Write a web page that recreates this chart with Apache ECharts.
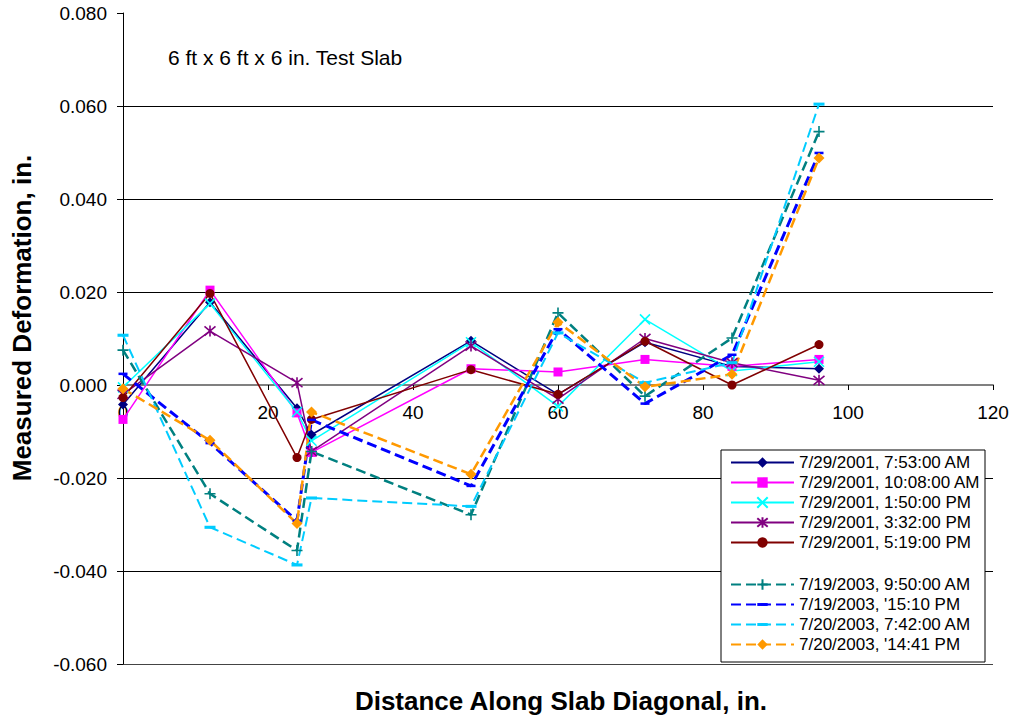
<!DOCTYPE html>
<html><head><meta charset="utf-8">
<script src="https://cdn.jsdelivr.net/npm/echarts@6/dist/echarts.min.js"></script>
<style>html,body{margin:0;padding:0;background:#fff}#c{width:1012px;height:719px}</style>
</head><body><div id="c"></div>
<script>
// ---- data ----
const distance = [0, 12, 24, 26, 48, 60, 72, 84, 96];
const seriesNames = [
  '7/29/2001, 7:53:00 AM', '7/29/2001, 10:08:00 AM', '7/29/2001, 1:50:00 PM',
  '7/29/2001, 3:32:00 PM', '7/29/2001, 5:19:00 PM',
  '7/19/2003, 9:50:00 AM', "7/19/2003, '15:10 PM", '7/20/2003, 7:42:00 AM', "7/20/2003, '14:41 PM"
];
const v0753am01 = [-0.0042, 0.0178, -0.0050, -0.0107, 0.0095, -0.0020, 0.0092, 0.0040, 0.0035];
const v1008am01 = [-0.0074, 0.0204, -0.0060, -0.0145, 0.0035, 0.0028, 0.0055, 0.0040, 0.0055];
const v0150pm01 = [-0.0005, 0.0175, -0.0058, -0.0120, 0.0092, -0.0046, 0.0141, 0.0030, 0.0050];
const v0332pm01 = [-0.0020, 0.0116, 0.0005, -0.0143, 0.0084, -0.0030, 0.0100, 0.0048, 0.0010];
const v0519pm01 = [-0.0027, 0.0197, -0.0156, -0.0074, 0.0033, -0.0020, 0.0094, 0.0000, 0.0087];
const v0950am03 = [0.0075, -0.0234, -0.0356, -0.0143, -0.0279, 0.0155, -0.0024, 0.0101, 0.0545];
const v1510pm03 = [0.0024, -0.0125, -0.0292, -0.0075, -0.0217, 0.0120, -0.0040, 0.0065, 0.0499];
const v0742am03 = [0.0107, -0.0306, -0.0387, -0.0243, -0.0261, 0.0112, 0.0005, 0.0048, 0.0604];
const v0241pm03 = [-0.0008, -0.0119, -0.0298, -0.0058, -0.0192, 0.0135, -0.0004, 0.0023, 0.0488];
const xMin = 0, xMax = 120, xStep = 20;
const yMin = -0.06, yMax = 0.08, yStep = 0.02;
const xTitle = 'Distance Along Slab Diagonal, in.';
const yTitle = 'Measured Deformation, in.';
const note = '6 ft x 6 ft x 6 in. Test Slab';

// ---- layout / styling ----
const FONT = "'Liberation Sans', Arial, sans-serif";
const W = 1012, H = 719;
const gridBox = {left: 123, right: 19, top: 13, bottom: 55};
const plotH = H - gridBox.top - gridBox.bottom;
// move the distance axis up so that it crosses the deformation axis at zero
const xAxisOffset = -plotH * (0 - yMin) / (yMax - yMin);

const allValues = [v0753am01, v1008am01, v0150pm01, v0332pm01, v0519pm01, v0950am03, v1510pm03, v0742am03, v0241pm03];
// short horizontal dash marker inside a square bounding box
const DASH = 'path://M0,0M10,10M0,3.6L10,3.6L10,6.4L0,6.4Z';
const styles = [
  {color: '#000080', symbol: 'diamond', size: 10, width: 1.5},
  {color: '#FF00FF', symbol: 'rect', size: 9, width: 1.5},
  {color: '#00FFFF', symbol: 'path://M0,0L10,10M10,0L0,10', size: 10, width: 1.5, stroke: true},
  {color: '#800080', symbol: 'path://M0,0L10,10M10,0L0,10M5,-1L5,11', size: 11, width: 1.5, stroke: true},
  {color: '#800000', symbol: 'circle', size: 9, width: 1.5},
  {color: '#008080', symbol: 'path://M5,0L5,10M0,5L10,5', size: 11, width: 2.5, dash: true, stroke: true},
  {color: '#0000FF', symbol: DASH, size: 9, width: 3, dash: true},
  {color: '#00CCFF', symbol: DASH, size: 11, width: 2, dash: true},
  {color: '#FF9900', symbol: 'diamond', size: 11, width: 2.5, dash: true}
];

const series = allValues.map((vals, i) => {
  const s = styles[i];
  return {
    name: seriesNames[i],
    type: 'line',
    data: distance.map((d, k) => [d, vals[k]]),
    symbol: s.symbol,
    symbolSize: s.size,
    showAllSymbol: true,
    lineStyle: {color: s.color, width: s.width, type: s.dash ? [10, 5] : 'solid'},
    itemStyle: {color: s.color, borderColor: s.color, borderWidth: s.stroke ? 1.6 : 0, opacity: 1},
    emphasis: {disabled: true},
    z: 2
  };
});

const chart = echarts.init(document.getElementById('c'), null, {renderer: 'svg'});
chart.setOption({
  animation: false,
  backgroundColor: '#fff',
  textStyle: {fontFamily: FONT},
  grid: Object.assign({containLabel: false, outerBoundsMode: 'none'}, gridBox),
  xAxis: {
    type: 'value', min: xMin, max: xMax, interval: xStep,
    position: 'bottom', offset: xAxisOffset,
    axisLine: {onZero: false, lineStyle: {color: '#808080', width: 2}},
    axisTick: {show: true, length: 5, inside: false, lineStyle: {color: '#000', width: 1}},
    axisLabel: {color: '#000', fontSize: 19, fontFamily: FONT, margin: 18, showMinLabel: true, showMaxLabel: true},
    splitLine: {show: false}
  },
  yAxis: {
    type: 'value', min: yMin, max: yMax, interval: yStep,
    axisLine: {show: true, onZero: false, lineStyle: {color: '#000', width: 1}},
    axisTick: {show: true, length: 6, inside: false, lineStyle: {color: '#000'}},
    axisLabel: {color: '#000', fontSize: 19, fontFamily: FONT, margin: 16, formatter: v => v.toFixed(3)},
    splitLine: {show: true, lineStyle: {color: ['#444', '#000', '#000', '#808080', '#000', '#000', '#000', 'rgba(0,0,0,0)'], width: 1}}
  },
  legend: [
    {
      data: seriesNames.slice(0, 5), orient: 'vertical', left: 730, top: 454, padding: 0,
      itemWidth: 63, itemHeight: 13, itemGap: 3, selectedMode: false, z: 10,
      textStyle: {fontSize: 17, color: '#000', fontFamily: FONT}
    },
    {
      data: seriesNames.slice(5), orient: 'vertical', left: 730, top: 576, padding: 0,
      itemWidth: 63, itemHeight: 13, itemGap: 3, selectedMode: false, z: 10,
      textStyle: {fontSize: 17, color: '#000', fontFamily: FONT}
    }
  ],
  graphic: [
    {type: 'rect', z: 8, shape: {x: 721, y: 450, width: 264, height: 212},
     style: {fill: '#fff', stroke: '#000', lineWidth: 1}},
    {type: 'text', z: 8, x: 168, y: 57,
     style: {text: note, font: '21px ' + FONT, fill: '#000', textAlign: 'left', textVerticalAlign: 'middle', verticalAlign: 'middle'}},
    {type: 'text', z: 8, x: 561, y: 701,
     style: {text: xTitle, font: 'bold 26px ' + FONT, fill: '#000', textAlign: 'center', align: 'center', textVerticalAlign: 'middle', verticalAlign: 'middle'}},
    {type: 'text', z: 8, x: 22, y: 318, rotation: Math.PI / 2,
     style: {text: yTitle, font: 'bold 26px ' + FONT, fill: '#000', textAlign: 'center', align: 'center', textVerticalAlign: 'middle', verticalAlign: 'middle'}}
  ],
  series: series
});
</script>
</body></html>
